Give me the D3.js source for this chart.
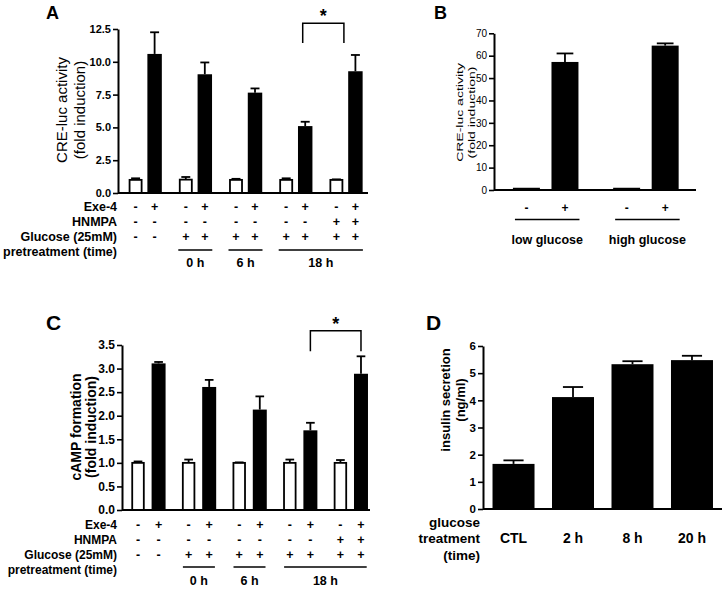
<!DOCTYPE html>
<html><head><meta charset="utf-8">
<script src="https://cdn.jsdelivr.net/npm/d3@7"></script>
<style>
body{margin:0;background:#fff;}
svg{display:block;}
</style></head><body>
<svg id="c" width="724" height="589"></svg>
<script>
// ================= DATA =================
// Panels A and C: five groups, each with vehicle (white) and Exe-4 (black) bar
const groupsAC = ['G1','G2','G3','G4','G5'];
const treatments = ['ctrl','exe'];

const aCtrl    = [1.0, 1.02, 1.0, 1.0, 1.0];
const aCtrlErr = [0.12, 0.2, 0.08, 0.12, 0.04];
const aExe     = [10.6, 9.05, 7.65, 5.1, 9.28];
const aExeErr  = [1.65, 0.9, 0.32, 0.33, 1.24];
const aTicks   = [0, 2.5, 5, 7.5, 10, 12.5];

const cCtrl    = [1.0, 1.0, 1.0, 1.0, 1.0];
const cCtrlErr = [0.03, 0.07, 0.01, 0.07, 0.06];
const cExe     = [3.11, 2.61, 2.13, 1.69, 2.89];
const cExeErr  = [0.03, 0.15, 0.28, 0.16, 0.37];
const cTicks   = [0, 0.5, 1, 1.5, 2, 2.5, 3, 3.5];

const rowNames     = ['Exe-4', 'HNMPA', 'Glucose (25mM)', 'pretreatment (time)'];
const exeSigns     = ['-','+','-','+','-','+','-','+','-','+'];
const hnmpaSigns   = ['-','-','-','-','-','-','-','-','+','+'];
const glucoseSigns = ['-','-','+','+','+','+','+','+','+','+'];
const pretreatLabels = ['0 h', '6 h', '18 h'];
const pretreatFirst  = ['G2', 'G3', 'G4'];
const pretreatLast   = ['G2', 'G3', 'G5'];

// Panel B
const bGroups = ['low glucose', 'high glucose'];
const bSigns  = ['-', '+'];
const bLow    = [1.0, 57.2];
const bLowErr = [0.2, 3.8];
const bHigh   = [1.0, 64.5];
const bHighErr= [0.2, 1.0];
const bTicks  = [0, 10, 20, 30, 40, 50, 60, 70];

// Panel D
const dCats   = ['CTL', '2 h', '8 h', '20 h'];
const dValues = [1.66, 4.12, 5.33, 5.48];
const dErr    = [0.13, 0.37, 0.11, 0.16];
const dTicks  = [0, 1, 2, 3, 4, 5, 6];
const dXTitle = ['glucose', 'treatment', '(time)'];

// ================= DRAW =================
const FONT = '"Liberation Sans", Arial, Helvetica, sans-serif';
const svg = d3.select('#c').attr('font-family', FONT);

function yAxis(g, y, x0, ticks, fmt, fs, fw) {
  const ax = d3.axisLeft(y).tickValues(ticks).tickFormat(fmt)
    .tickSize(5).tickSizeOuter(0).tickPadding(2);
  const a = g.append('g').attr('transform', `translate(${x0},0)`).call(ax);
  a.select('.domain').attr('stroke', '#000').attr('stroke-width', 2);
  a.selectAll('.tick line').attr('stroke', '#000').attr('stroke-width', 1.6);
  a.selectAll('.tick text').attr('font-size', fs).attr('font-weight', fw)
    .attr('font-family', FONT).attr('fill', '#000');
  return a;
}

function errBar(g, cx, yTop, yErr, capW) {
  g.append('line').attr('x1', cx).attr('x2', cx).attr('y1', yTop).attr('y2', yErr)
    .attr('stroke', '#000').attr('stroke-width', 1.8);
  g.append('line').attr('x1', cx - capW / 2).attr('x2', cx + capW / 2)
    .attr('y1', yErr).attr('y2', yErr).attr('stroke', '#000').attr('stroke-width', 1.8);
}

function rotTitle(g, lines, xs, cy, fs, fw, sx) {
  lines.forEach((t, i) => {
    g.append('g').attr('transform', `translate(${xs[i]},${cy}) scale(${sx},1) rotate(-90)`)
      .append('text').attr('text-anchor', 'middle').attr('dy', '0.35em')
      .attr('font-size', fs).attr('font-weight', fw).text(t);
  });
}

function letter(t, x, yb, fs) {
  svg.append('text').attr('x', x).attr('y', yb).attr('font-size', fs)
    .attr('font-weight', 'bold').text(t);
}

function groupedPanel(cfg) {
  const g = svg.append('g');
  const y = d3.scaleLinear().domain([0, cfg.yMax]).range([cfg.yBase, cfg.yTop]);
  const xo = d3.scaleBand().domain(groupsAC).range(cfg.xRange);
  const xi = d3.scaleBand().domain(treatments).range([0, xo.bandwidth()])
    .paddingInner(cfg.pi).paddingOuter(cfg.po);
  const bw = xi.bandwidth();
  const cx = (grp, t) => xo(grp) + xi(t) + bw / 2;

  // bars
  groupsAC.forEach((grp, i) => {
    const items = [
      {t: 'ctrl', v: cfg.ctrl[i], e: cfg.ctrlErr[i]},
      {t: 'exe',  v: cfg.exe[i],  e: cfg.exeErr[i]}
    ];
    items.forEach(d => {
      const x = xo(grp) + xi(d.t);
      if (d.t === 'ctrl') {
        g.append('rect').attr('x', x + 1.2).attr('width', bw - 2.4)
          .attr('y', y(d.v)).attr('height', y(0) - y(d.v))
          .attr('fill', '#fff').attr('stroke', '#000').attr('stroke-width', 1.8);
      } else {
        g.append('rect').attr('x', x).attr('width', bw)
          .attr('y', y(d.v)).attr('height', y(0) - y(d.v)).attr('fill', '#000');
      }
      errBar(g, x + bw / 2, y(d.v), y(d.v + d.e), bw * 0.62);
    });
  });

  // axes
  g.append('line').attr('x1', cfg.axisX).attr('x2', cfg.xEnd)
    .attr('y1', y(0)).attr('y2', y(0)).attr('stroke', '#000').attr('stroke-width', 2);
  yAxis(g, y, cfg.axisX, cfg.ticks, d3.format('.1f'), cfg.tickFs, 'bold');

  // y title
  rotTitle(g, cfg.title, cfg.titleX, cfg.titleY, cfg.titleFs, cfg.titleFw, 1);

  // condition rows
  const signRows = [exeSigns, hnmpaSigns, glucoseSigns];
  rowNames.forEach((name, r) => {
    g.append('text').attr('x', cfg.rowLabelX).attr('y', cfg.rowY[r]).attr('dy', '0.35em')
      .attr('text-anchor', 'end').attr('font-size', cfg.rowFs).attr('font-weight', 'bold').text(name);
  });
  signRows.forEach((signs, r) => {
    signs.forEach((s, k) => {
      const grp = groupsAC[Math.floor(k / 2)];
      const t = treatments[k % 2];
      g.append('text').attr('x', cx(grp, t)).attr('y', cfg.rowY[r]).attr('dy', '0.35em')
        .attr('text-anchor', 'middle').attr('font-size', cfg.signFs).attr('font-weight', 'bold').text(s);
    });
  });
  pretreatLabels.forEach((lab, k) => {
    const x1 = xo(pretreatFirst[k]) + xo.bandwidth() / 2 - cfg.lineHalf;
    const x2 = xo(pretreatLast[k]) + xo.bandwidth() / 2 + cfg.lineHalf;
    g.append('line').attr('x1', x1).attr('x2', x2).attr('y1', cfg.lineY).attr('y2', cfg.lineY)
      .attr('stroke', '#000').attr('stroke-width', 1.6);
    g.append('text').attr('x', (x1 + x2) / 2).attr('y', cfg.labelY).attr('dy', '0.35em')
      .attr('text-anchor', 'middle').attr('font-size', cfg.labelFs).attr('font-weight', 'bold').text(lab);
  });

  // significance bracket between group 4 and group 5 Exe-4 bars
  const bx1 = cx('G4', 'exe') + cfg.brOff[0];
  const bx2 = cx('G5', 'exe') + cfg.brOff[1];
  const by = y(cfg.brY), byl = y(cfg.brLeg);
  g.append('path').attr('d', `M${bx1},${byl}V${by}H${bx2}V${byl}`)
    .attr('fill', 'none').attr('stroke', '#000').attr('stroke-width', 1.5);
  g.append('text').attr('x', (bx1 + bx2) / 2).attr('y', by - 1).attr('text-anchor', 'middle')
    .attr('font-size', 18).attr('font-weight', 'bold').text('*');
}

// ---------- Panel A ----------
letter('A', 46, 18.5, 18);
groupedPanel({
  yMax: 12.5, yBase: 193, yTop: 29, xRange: [120, 371], pi: 0.24, po: 0.44,
  axisX: 118, xEnd: 368, ticks: aTicks, tickFs: 11,
  ctrl: aCtrl, ctrlErr: aCtrlErr, exe: aExe, exeErr: aExeErr,
  title: ['CRE-luc activity', '(fold induction)'], titleX: [62, 80], titleY: 110,
  titleFs: 15, titleFw: 'normal',
  rowLabelX: 117, rowY: [207, 222, 237, 252], rowFs: 12.5, signFs: 12.5,
  lineHalf: 17, lineY: 250, labelY: 263, labelFs: 12.5,
  brOff: [-2.5, -11.5], brY: 12.93, brLeg: 11.43
});

// ---------- Panel C ----------
letter('C', 46, 330, 21);
groupedPanel({
  yMax: 3.5, yBase: 510, yTop: 345, xRange: [123, 376], pi: 0.32, po: 0.39,
  axisX: 122, xEnd: 370, ticks: cTicks, tickFs: 12,
  ctrl: cCtrl, ctrlErr: cCtrlErr, exe: cExe, exeErr: cExeErr,
  title: ['cAMP formation', '(fold induction)'], titleX: [76, 91], titleY: 427,
  titleFs: 14, titleFw: 'bold',
  rowLabelX: 117, rowY: [525, 540, 555, 570], rowFs: 12, signFs: 12.5,
  lineHalf: 16, lineY: 567, labelY: 581, labelFs: 12.5,
  brOff: [0, 0], brY: 3.80, brLeg: 3.37
});

// ---------- Panel B ----------
(function () {
  letter('B', 434, 18.5, 18);
  const g = svg.append('g');
  const y = d3.scaleLinear().domain([0, 70]).range([190, 33.3]);
  const xo = d3.scaleBand().domain(bGroups).range([495.6, 696]);
  const xi = d3.scaleBand().domain(bSigns).range([0, xo.bandwidth()]).paddingInner(0.3).paddingOuter(0.45);
  const bw = xi.bandwidth();
  const vals = {'low glucose': [bLow, bLowErr], 'high glucose': [bHigh, bHighErr]};
  bGroups.forEach(grp => {
    bSigns.forEach((s, k) => {
      const v = vals[grp][0][k], e = vals[grp][1][k];
      const x = xo(grp) + xi(s);
      g.append('rect').attr('x', x).attr('width', bw).attr('y', y(v))
        .attr('height', y(0) - y(v)).attr('fill', '#000');
      if (e > 0.5) errBar(g, x + bw / 2, y(v), y(v + e), bw * 0.62);
      g.append('text').attr('x', x + bw / 2).attr('y', 208).attr('dy', '0.35em')
        .attr('text-anchor', 'middle').attr('font-size', 12).attr('font-weight', 'bold').text(s);
    });
    const x1 = xo(grp) + xi('-') + 2, x2 = xo(grp) + xi('+') + bw + 1;
    g.append('line').attr('x1', x1).attr('x2', x2).attr('y1', 219.5).attr('y2', 219.5)
      .attr('stroke', '#000').attr('stroke-width', 1.6);
    g.append('text').attr('x', (x1 + x2) / 2).attr('y', 240).attr('dy', '0.35em')
      .attr('text-anchor', 'middle').attr('font-size', 12.5).attr('font-weight', 'bold').text(grp);
  });
  g.append('line').attr('x1', 494).attr('x2', xo.range()[1]).attr('y1', y(0)).attr('y2', y(0))
    .attr('stroke', '#000').attr('stroke-width', 2);
  yAxis(g, y, 494, bTicks, d3.format('d'), 10, 'normal');
  rotTitle(g, ['CRE-luc activity', '(fold induction)'], [460, 471.5], 112.5, 14, 'normal', 0.7);
})();

// ---------- Panel D ----------
(function () {
  letter('D', 426, 330, 21);
  const g = svg.append('g');
  const y = d3.scaleLinear().domain([0, 6]).range([509, 346]);
  const x = d3.scaleBand().domain(dCats).range([483, 722.5]).paddingInner(0.294).paddingOuter(0.16);
  const bw = x.bandwidth();
  dCats.forEach((c, i) => {
    g.append('rect').attr('x', x(c)).attr('width', bw).attr('y', y(dValues[i]))
      .attr('height', y(0) - y(dValues[i])).attr('fill', '#000');
    errBar(g, x(c) + bw / 2, y(dValues[i]), y(dValues[i] + dErr[i]), bw * 0.48);
    g.append('text').attr('x', x(c) + bw / 2).attr('y', 542.5).attr('text-anchor', 'middle')
      .attr('font-size', 14).attr('font-weight', 'bold').text(c);
  });
  g.append('line').attr('x1', 483).attr('x2', 722).attr('y1', y(0)).attr('y2', y(0))
    .attr('stroke', '#000').attr('stroke-width', 2);
  yAxis(g, y, 483, dTicks, d3.format('d'), 11.5, 'bold');
  rotTitle(g, ['insulin secretion', '(ng/ml)'], [445, 460], 400, 13, 'bold', 1);
  [526.5, 543, 559.5].forEach((yy, i) => {
    g.append('text').attr('x', 480).attr('y', yy).attr('text-anchor', 'end')
      .attr('font-size', 13.5).attr('font-weight', 'bold').text(dXTitle[i]);
  });
})();
</script>
</body></html>
